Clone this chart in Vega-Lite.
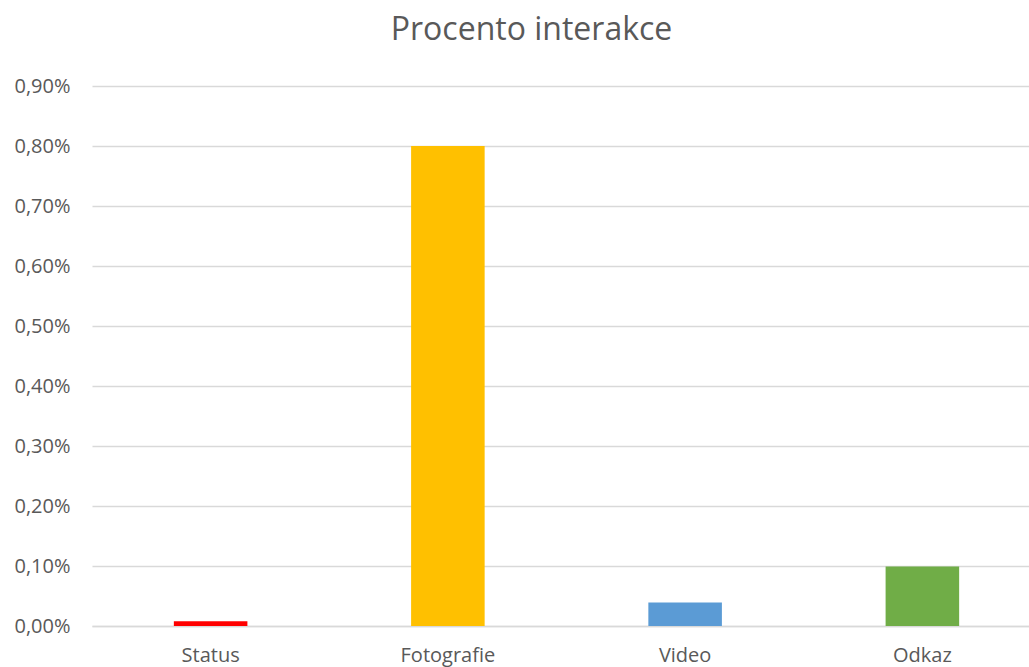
{
  "$schema": "https://vega.github.io/schema/vega-lite/v6.json",
  "width": 937,
  "height": 540,
  "autosize": {"type": "none"},
  "padding": {"left": 92, "top": 86, "right": 0, "bottom": 41},
  "background": "white",
  "title": {
    "text": "Procento interakce",
    "font": "Open Sans",
    "fontSize": 32,
    "fontWeight": "normal",
    "color": "#595959",
    "anchor": "middle",
    "dx": -29,
    "offset": 29
  },
  "data": {
    "values": [
      {"typ": "Status", "hodnota": 0.00008},
      {"typ": "Fotografie", "hodnota": 0.008},
      {"typ": "Video", "hodnota": 0.00039},
      {"typ": "Odkaz", "hodnota": 0.00099}
    ]
  },
  "mark": {"type": "bar"},
  "encoding": {
    "x": {
      "field": "typ",
      "type": "nominal",
      "sort": null,
      "title": null,
      "scale": {"range": [0, 949], "paddingInner": 0.69, "paddingOuter": 0.345},
      "axis": {
        "labelAngle": 0,
        "labelFont": "Open Sans",
        "labelFontSize": 20,
        "labelColor": "#595959",
        "labelPadding": 19,
        "ticks": false,
        "domainColor": "#d9d9d9",
        "domainWidth": 1.5,
        "grid": false
      }
    },
    "y": {
      "field": "hodnota",
      "type": "quantitative",
      "title": null,
      "scale": {"domain": [0, 0.009], "nice": false},
      "axis": {
        "values": [0, 0.001, 0.002, 0.003, 0.004, 0.005, 0.006, 0.007, 0.008, 0.009],
        "labelExpr": "replace(format(datum.value, '.2%'), '.', ',')",
        "labelFont": "Open Sans",
        "labelFontSize": 20,
        "labelColor": "#595959",
        "labelPadding": 22,
        "ticks": false,
        "domain": false,
        "gridColor": "#d9d9d9",
        "gridWidth": 1.5
      }
    },
    "color": {
      "field": "typ",
      "type": "nominal",
      "legend": null,
      "scale": {
        "domain": ["Status", "Fotografie", "Video", "Odkaz"],
        "range": ["#FF0000", "#FFC000", "#5B9BD5", "#70AD47"]
      }
    }
  },
  "config": {"view": {"stroke": null}}
}
